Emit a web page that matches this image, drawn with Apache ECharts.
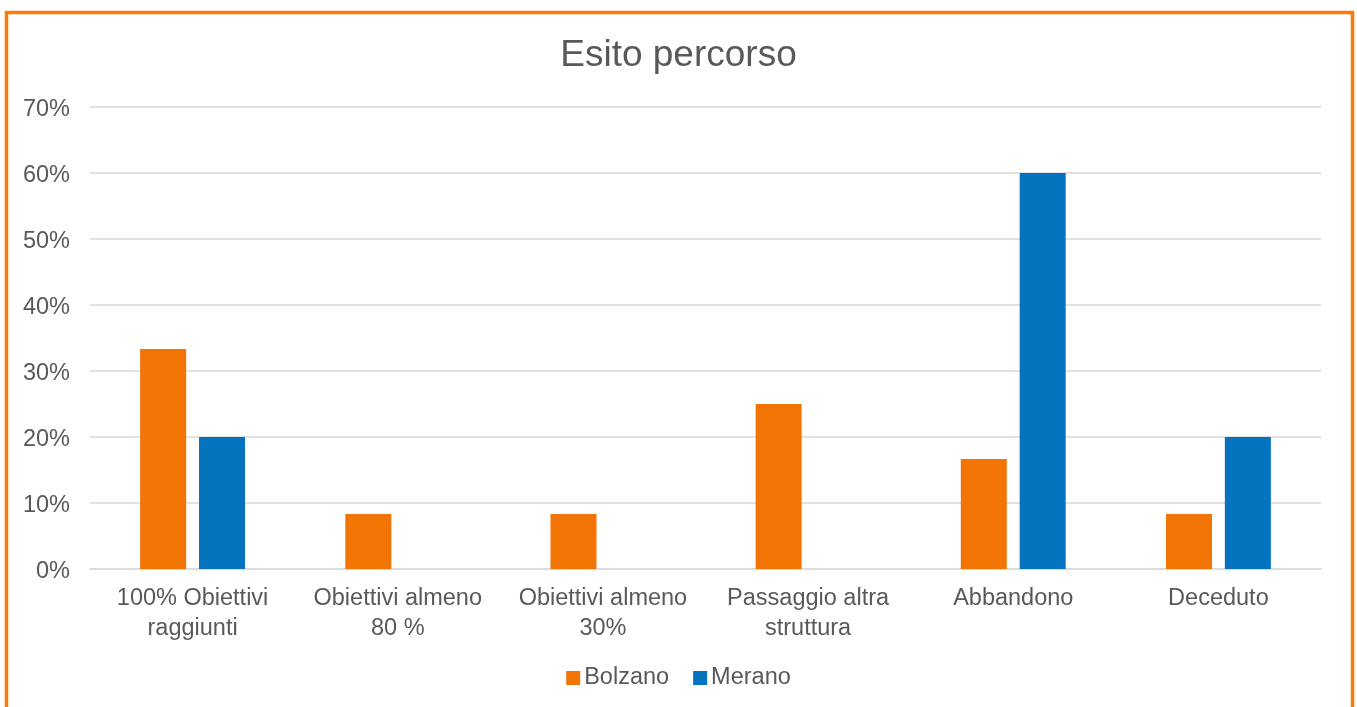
<!DOCTYPE html>
<html>
<head>
<meta charset="utf-8">
<script src="https://cdn.jsdelivr.net/npm/echarts@6/dist/echarts.min.js"></script>
<style>
html,body{margin:0;padding:0;background:#fff;}
#c{width:1357px;height:707px;}
</style>
</head>
<body>
<div id="c"></div>
<script>
const titleText = 'Esito percorso';
const categories = ['100% Obiettivi\nraggiunti', 'Obiettivi almeno\n80 %', 'Obiettivi almeno\n30%', 'Passaggio altra\nstruttura', 'Abbandono', 'Deceduto'];
const seriesNames = ['Bolzano', 'Merano'];
const bolzano = [33.33, 8.33, 8.33, 25.0, 16.67, 8.33];
const merano = [20, 0, 0, 0, 60, 20];
const yTicks = [0, 10, 20, 30, 40, 50, 60, 70];

const FONT = '"Liberation Sans", Arial, sans-serif';
const TXT = '#595959';
const chart = echarts.init(document.getElementById('c'), null, {renderer: 'canvas'});
chart.setOption({
  animation: false,
  backgroundColor: '#fff',
  color: ['#F27405', '#0673BF'],
  graphic: [{
    type: 'rect', left: 4, top: 10, z: 100, silent: true,
    shape: {width: 1346, height: 720},
    style: {fill: 'none', stroke: '#FB7B06', lineWidth: 3.5}
  }],
  title: {
    text: titleText, left: 'center', top: 32,
    textStyle: {fontFamily: FONT, fontSize: 37, fontWeight: 'normal', color: TXT}
  },
  legend: {
    data: seriesNames, bottom: 12, left: 'center',
    itemWidth: 14, itemHeight: 14, itemGap: 24,
    icon: 'rect',
    textStyle: {fontFamily: FONT, fontSize: 23.5, color: TXT, padding: [0,0,0,-1]}
  },
  grid: {left: 90, right: 36, top: 107, bottom: 138, containLabel: false},
  xAxis: {
    type: 'category', data: categories,
    axisLine: {lineStyle: {color: '#D9D9D9', width: 1.5}},
    axisTick: {show: false},
    axisLabel: {fontFamily: FONT, fontSize: 23.5, color: TXT, margin: 15, lineHeight: 30, interval: 0}
  },
  yAxis: {
    type: 'value', min: 0, max: 70, interval: 10,
    axisLine: {show: false}, axisTick: {show: false},
    splitLine: {lineStyle: {color: '#D9D9D9', width: 1.5}},
    axisLabel: {fontFamily: FONT, fontSize: 23.5, color: TXT, margin: 20,
      formatter: v => yTicks.includes(v) ? '{a|' + v + '%}' : '',
      rich: {a: {fontFamily: FONT, fontSize: 23.5, color: TXT, padding: [6, 0, 0, 0]}}}
  },
  series: [
    {name: seriesNames[0], type: 'bar', data: bolzano, barWidth: 46, barGap: '28%'},
    {name: seriesNames[1], type: 'bar', data: merano, barWidth: 46, barGap: '28%'}
  ]
});
</script>
</body>
</html>
